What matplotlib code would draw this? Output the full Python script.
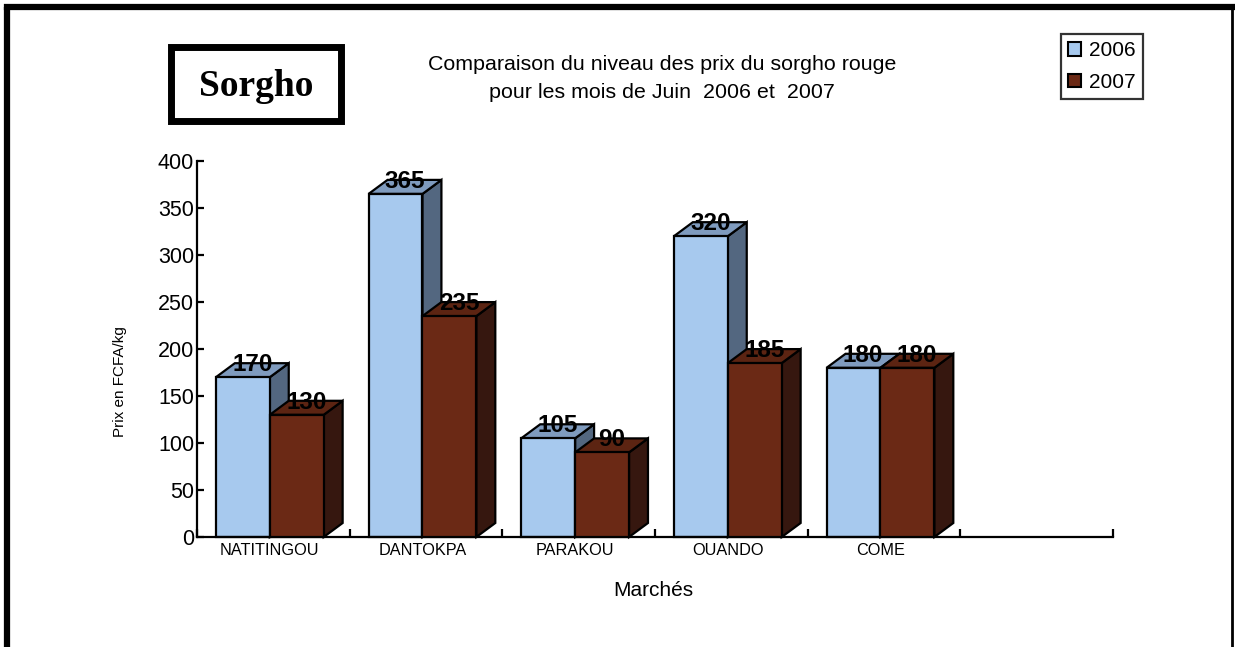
import matplotlib
matplotlib.use("Agg")
import matplotlib.pyplot as plt
from matplotlib.patches import Rectangle, Polygon, Patch
from matplotlib.lines import Line2D

plt.rcParams['font.family'] = ['Liberation Sans', 'DejaVu Sans']

markets = ["NATITINGOU", "DANTOKPA", "PARAKOU", "OUANDO", "COME"]
prix_2006 = [170, 365, 105, 320, 180]
prix_2007 = [130, 235, 90, 185, 180]
series_names = ["2006", "2007"]
yticks = [0, 50, 100, 150, 200, 250, 300, 350, 400]

front = ["#A7C9EE", "#6B2915"]
top = ["#7F9BBE", "#5C2412"]
side = ["#536780", "#36170F"]

W, H = 1235, 647
fig = plt.figure(figsize=(W / 100, H / 100), dpi=100)

ax = fig.add_axes([197 / W, 1 - 537 / H, (1113 - 197) / W, (537 - 161) / H])
n_slots = 6
ax.set_xlim(0, n_slots)
ax.set_ylim(0, 400)

bw = 0.353
off = 0.124
dx = 0.124
dy = 14.9

for i in range(len(markets)):
    for s, vals in enumerate([prix_2006, prix_2007]):
        v = vals[i]
        x0 = i + off + s * bw
        z = 2 + s
        ax.add_patch(Polygon([(x0 + bw, 0), (x0 + bw + dx, dy), (x0 + bw + dx, v + dy), (x0 + bw, v)],
                             closed=True, facecolor=side[s], edgecolor='black', lw=1.6,
                             clip_on=False, zorder=z, joinstyle='miter'))
        ax.add_patch(Polygon([(x0, v), (x0 + bw, v), (x0 + bw + dx, v + dy), (x0 + dx, v + dy)],
                             closed=True, facecolor=top[s], edgecolor='black', lw=1.6,
                             clip_on=False, zorder=z, joinstyle='miter'))
        ax.add_patch(Rectangle((x0, 0), bw, v, facecolor=front[s], edgecolor='black', lw=1.6,
                               clip_on=False, zorder=z, joinstyle='miter'))
for i in range(len(markets)):
    for s, vals in enumerate([prix_2006, prix_2007]):
        v = vals[i]
        x0 = i + off + s * bw
        ax.text(x0 + bw / 2 + dx / 2, v + dy * 0.9, str(v), ha='center', va='center',
                fontsize=17.5, fontweight='bold', zorder=10, clip_on=False)

for sp in ['top', 'right']:
    ax.spines[sp].set_visible(False)
ax.spines['left'].set_linewidth(1.6)
ax.spines['bottom'].set_linewidth(1.6)
ax.set_yticks(yticks)
ax.set_yticklabels([str(t) for t in yticks], fontsize=15.5)
ax.tick_params(axis='y', direction='in', length=5, width=1.6, pad=2)
ax.set_xticks(range(n_slots + 1))
ax.set_xticklabels([])
ax.tick_params(axis='x', direction='in', length=6, width=1.6)
for i, m in enumerate(markets):
    ax.text(i + off + bw, -6, m, ha='center', va='top', fontsize=11.7)

fig.text(120 / W, 1 - 382 / H, "Prix en FCFA/kg", rotation=90, ha='center', va='center', fontsize=11)
fig.text(653 / W, 1 - 590 / H, "Marchés", ha='center', va='center', fontsize=15)
fig.text(662 / W, 1 - 78 / H, "Comparaison du niveau des prix du sorgho rouge\npour les mois de Juin  2006 et  2007",
         ha='center', va='center', fontsize=15.4, linespacing=1.6)

# Sorgho box
fig.patches.append(Rectangle((171 / W, 1 - 121 / H), (341 - 171) / W, (121 - 47) / H,
                             transform=fig.transFigure, facecolor='white', edgecolor='black', lw=5,
                             joinstyle='miter'))
fig.text(256 / W, 1 - 86 / H, "Sorgho", ha='center', va='center', fontsize=27, fontweight='bold',
         family=['Liberation Serif', 'DejaVu Serif'])

# Outer frame
fig.add_artist(Line2D([7 / W, 1232 / W], [1 - 7 / H, 1 - 7 / H], transform=fig.transFigure,
                      color='black', lw=4.5, solid_capstyle='projecting'))
fig.add_artist(Line2D([7 / W, 7 / W], [1 - 7 / H, 0], transform=fig.transFigure,
                      color='black', lw=4.5, solid_capstyle='butt'))
fig.add_artist(Line2D([1232 / W, 1232 / W], [1 - 7 / H, 0], transform=fig.transFigure,
                      color='black', lw=2, solid_capstyle='butt'))

# Legend
handles = [Patch(facecolor=front[k], edgecolor='black', lw=1.5) for k in range(2)]
leg = fig.legend(handles, series_names, loc='upper right', bbox_to_anchor=(1143 / W, 1 - 34 / H),
                 fontsize=15, frameon=True, fancybox=False, edgecolor='black',
                 handlelength=0.6, handleheight=0.6, handletextpad=0.4, borderpad=0.35,
                 labelspacing=0.6, borderaxespad=0)
leg.get_frame().set_linewidth(1.6)

fig.savefig("out.png", dpi=100)
